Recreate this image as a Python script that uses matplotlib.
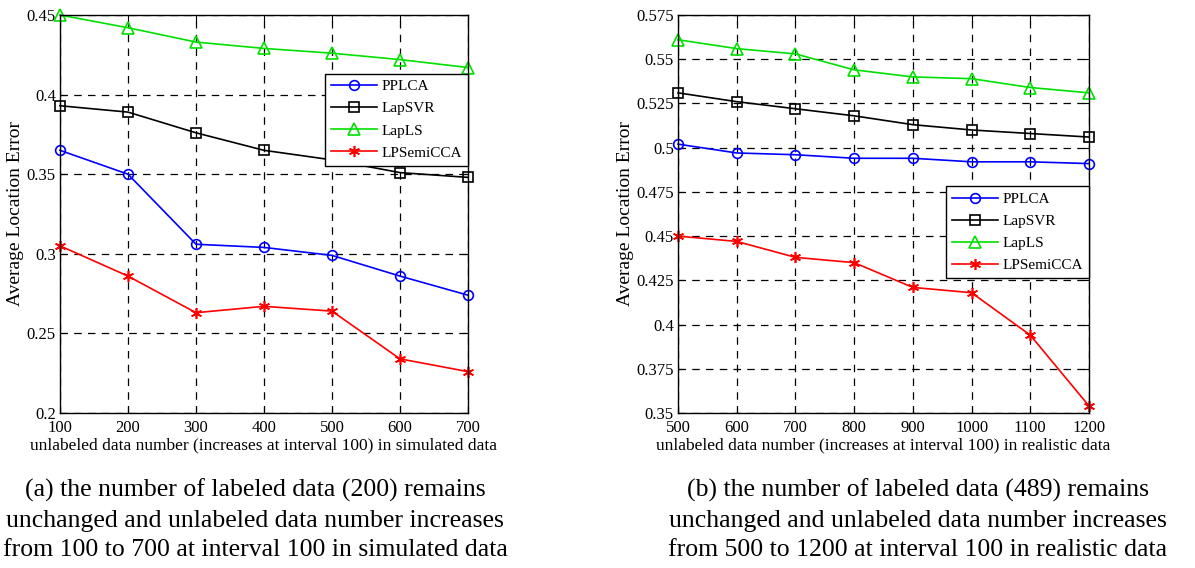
import numpy as np
import matplotlib
matplotlib.use('Agg')
import matplotlib.pyplot as plt

plt.rcParams['font.family'] = ['Liberation Serif', 'DejaVu Serif']

# simulated data (a)
x_sim = [100, 200, 300, 400, 500, 600, 700]
pplca_sim = [0.365, 0.350, 0.306, 0.304, 0.299, 0.286, 0.274]
lapsvr_sim = [0.393, 0.389, 0.376, 0.365, 0.359, 0.351, 0.348]
lapls_sim = [0.450, 0.442, 0.433, 0.429, 0.426, 0.422, 0.417]
lpsemi_sim = [0.305, 0.286, 0.263, 0.267, 0.264, 0.234, 0.226]

# realistic data (b)
x_real = [500, 600, 700, 800, 900, 1000, 1100, 1200]
pplca_real = [0.502, 0.497, 0.496, 0.494, 0.494, 0.492, 0.492, 0.491]
lapsvr_real = [0.531, 0.526, 0.522, 0.518, 0.513, 0.510, 0.508, 0.506]
lapls_real = [0.561, 0.556, 0.553, 0.544, 0.540, 0.539, 0.534, 0.531]
lpsemi_real = [0.450, 0.447, 0.438, 0.435, 0.421, 0.418, 0.394, 0.354]

names = ['PPLCA', 'LapSVR', 'LapLS', 'LPSemiCCA']
colors = ['#0000ff', '#000000', '#00e000', '#ff0000']
markers = ['o', 's', '^', (6, 2, 0)]
msizes = [7, 6.5, 8, 8]

W, H = 1195, 568
fig = plt.figure(figsize=(W / 100, H / 100), dpi=100)


def make_ax(px_left, px_right, px_top, px_bot):
    return fig.add_axes([px_left / W, 1 - px_bot / H,
                         (px_right - px_left) / W, (px_bot - px_top) / H])


def style(ax):
    ax.grid(True, color='black', linestyle=(0, (6, 5)), linewidth=0.9)
    ax.tick_params(direction='in', labelsize=12, length=4, top=True, right=True)
    ax.tick_params(axis='x', pad=5)
    ax.tick_params(axis='y', pad=3)
    for s in ax.spines.values():
        s.set_linewidth(1.0)
    ax.set_ylabel('Average Location Error', fontsize=14)


def add_legend(ax, anchor_y):
    leg = ax.legend(loc='upper right', bbox_to_anchor=(1.0, anchor_y), fontsize=11,
                    frameon=True, fancybox=False, edgecolor='black', framealpha=1,
                    handlelength=3.0, borderpad=0.4, labelspacing=0.55,
                    handletextpad=0.3, borderaxespad=0)
    leg.get_frame().set_linewidth(1.0)
    leg.set_zorder(5)


ax1 = make_ax(60, 468, 15, 413)
for y, n, c, m, ms in zip([pplca_sim, lapsvr_sim, lapls_sim, lpsemi_sim],
                          names, colors, markers, msizes):
    ax1.plot(x_sim, y, color=c, marker=m, markersize=ms, markerfacecolor='none',
             markeredgecolor=c, markeredgewidth=1.2, linewidth=1.2, label=n,
             clip_on=False)
ax1.set_xlim(100, 700)
ax1.set_ylim(0.2, 0.45)
ax1.set_xticks(x_sim)
ax1.set_yticks([0.2, 0.25, 0.3, 0.35, 0.4, 0.45])
ax1.set_yticklabels(['0.2', '0.25', '0.3', '0.35', '0.4', '0.45'])
style(ax1)
ax1.yaxis.set_label_coords(-0.088, 0.5)
ax1.set_xlabel('unlabeled data number (increases at interval 100) in simulated data',
               fontsize=12.5, labelpad=1)
add_legend(ax1, 0.853)

ax2 = make_ax(678, 1089, 15, 413)
for y, n, c, m, ms in zip([pplca_real, lapsvr_real, lapls_real, lpsemi_real],
                          names, colors, markers, msizes):
    ax2.plot(x_real, y, color=c, marker=m, markersize=ms, markerfacecolor='none',
             markeredgecolor=c, markeredgewidth=1.2, linewidth=1.2, label=n,
             clip_on=False)
ax2.set_xlim(500, 1200)
ax2.set_ylim(0.35, 0.575)
ax2.set_xticks(x_real)
yt = [0.35, 0.375, 0.4, 0.425, 0.45, 0.475, 0.5, 0.525, 0.55, 0.575]
ax2.set_yticks(yt)
ax2.set_yticklabels([('%g' % v) for v in yt])
style(ax2)
ax2.yaxis.set_label_coords(-0.108, 0.5)
ax2.set_xlabel('unlabeled data number (increases at interval 100) in realistic data',
               fontsize=12.5, labelpad=1)
add_legend(ax2, 0.57)

cap1 = ('(a) the number of labeled data (200) remains\n'
        'unchanged and unlabeled data number increases\n'
        'from 100 to 700 at interval 100 in simulated data')
cap2 = ('(b) the number of labeled data (489) remains\n'
        'unchanged and unlabeled data number increases\n'
        'from 500 to 1200 at interval 100 in realistic data')
fig.text(255 / W, 1 - 520 / H, cap1, ha='center', va='center', fontsize=18.5,
         linespacing=1.45)
fig.text(918 / W, 1 - 520 / H, cap2, ha='center', va='center', fontsize=18.5,
         linespacing=1.45)

fig.savefig('out.png', dpi=100)
